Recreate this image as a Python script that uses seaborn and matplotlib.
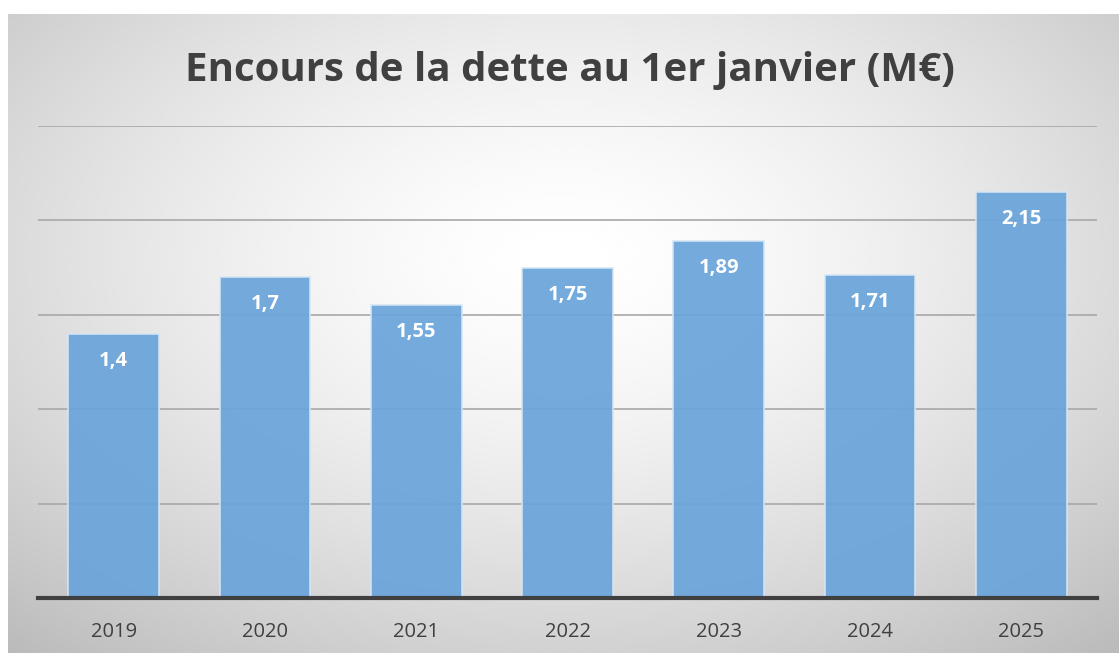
import matplotlib
matplotlib.use('Agg')
import matplotlib.pyplot as plt
import numpy as np
import seaborn as sns

annees = ['2019', '2020', '2021', '2022', '2023', '2024', '2025']
encours = [1.4, 1.7, 1.55, 1.75, 1.89, 1.71, 2.15]
titre = 'Encours de la dette au 1er janvier (M€)'

sns.set_theme(style='white')
plt.rcParams['font.family'] = ['Open Sans', 'DejaVu Sans']

W, H = 1119, 653
fig = plt.figure(figsize=(W / 100, H / 100), dpi=100)
fig.patch.set_facecolor('white')

# fond dégradé radial (façon Excel)
fond = fig.add_axes([8 / W, 0, 1 - 8 / W, 1 - 14 / H])
ny, nx = 300, 500
yy, xx = np.mgrid[0:1:ny * 1j, 0:1:nx * 1j]
r = np.sqrt(((xx - 0.5) / 0.75) ** 2 + ((yy - 0.38) / 0.8) ** 2)
grad = np.clip(1.0 - 0.26 * r ** 1.5, 0, 1)
fond.imshow(grad, cmap='gray', vmin=0, vmax=1, aspect='auto',
            extent=[0, 1, 1, 0], interpolation='bicubic')
fond.set_axis_off()
fond.set_zorder(-1)

ax = fig.add_axes([38 / W, 1 - 598 / H, (1097 - 38) / W, (598 - 126) / H])
ax.set_facecolor('none')
sns.barplot(x=annees, y=encours, color='#6AA4DA', alpha=0.93, width=0.6,
            saturation=1, edgecolor='#D6E6F5', linewidth=1.2, ax=ax, zorder=3)
ax.set_ylim(0, 2.5)
ax.set_xlim(-0.5, len(annees) - 0.5)
ax.set_yticks(np.arange(0, 2.51, 0.5))
ax.yaxis.grid(True, color='#A8A8A8', linewidth=1.2, zorder=0)
ax.set_axisbelow(True)
ax.tick_params(axis='y', left=False, labelleft=False)
ax.tick_params(axis='x', bottom=False, labelsize=14.5, labelcolor='#404040', pad=11)
ax.set_xlabel('')
ax.set_ylabel('')
for s in ['top', 'right', 'left']:
    ax.spines[s].set_visible(False)
ax.spines['bottom'].set_color('#404040')
ax.spines['bottom'].set_linewidth(3)
ax.spines['bottom'].set_zorder(5)

for i, v in enumerate(encours):
    ax.annotate(str(v).replace('.', ','), (i, v), xytext=(0, -27),
                textcoords='offset pixels', ha='center', va='center',
                color='white', fontsize=14.5, fontweight='bold', zorder=6)

fig.text(570 / W, 1 - 70 / H, titre, ha='center', va='center',
         fontsize=29, fontweight='bold', color='#404040')

fig.savefig('out.png', dpi=100)
